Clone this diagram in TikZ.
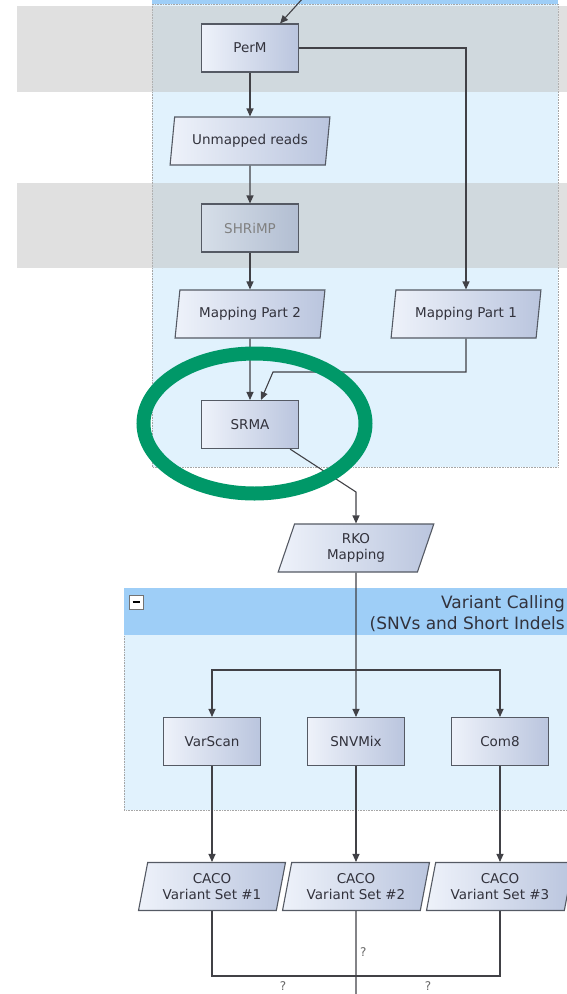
\documentclass[tikz,border=0pt]{standalone}
\usepackage{fontspec}
\setmainfont{DejaVu Sans}
\usetikzlibrary{shapes.geometric,arrows.meta}

\definecolor{panelblue}{RGB}{225,242,253}
\definecolor{headblue}{RGB}{158,206,247}
\definecolor{bandgray}{RGB}{189,189,189}
\definecolor{boxlight}{RGB}{238,242,250}
\definecolor{boxdark}{RGB}{186,197,222}
\definecolor{offlight}{RGB}{214,222,232}
\definecolor{offdark}{RGB}{178,190,210}
\definecolor{boxedge}{RGB}{85,90,100}
\definecolor{wire}{RGB}{65,65,70}
\definecolor{inktext}{RGB}{50,50,60}
\definecolor{ringgreen}{RGB}{0,152,104}

\tikzset{
  stepbox/.style={rectangle, draw=boxedge, line width=1.1pt,
    left color=boxlight, right color=boxdark,
    minimum width=97pt, minimum height=48pt, inner sep=0pt,
    text=inktext, font=\fontsize{13.5}{16}\selectfont, align=center},
  offbox/.style={stepbox, left color=offlight, right color=offdark, text=black!50},
  databox/.style={trapezium, trapezium left angle=75, trapezium right angle=105,
    trapezium stretches=true, draw=boxedge, line width=1.1pt,
    left color=boxlight, right color=boxdark,
    minimum width=#1, minimum height=48pt, inner sep=0pt,
    text=inktext, font=\fontsize{13.5}{16}\selectfont, align=center},
  databox/.default=150pt,
  wireline/.style={draw=wire, line width=1.1pt},
  flow/.style={wireline, -{Triangle[length=8pt,width=7pt]}},
  panel/.style={fill=panelblue, draw=black!35, densely dotted, line width=0.6pt},
  band/.style={fill=bandgray, fill opacity=0.47},
  qmark/.style={text=black!60, font=\fontsize{12}{14}\selectfont, inner sep=0pt}
}

\begin{document}
\begin{tikzpicture}[x=1pt, y=-1pt]
  \useasboundingbox (0,0) rectangle (567,994);
  \clip (0,0) rectangle (567,994);

  % mapping panel and swim lanes
  \draw[panel] (152,4) rectangle (558,467);
  \fill[headblue] (152,-10) rectangle (558,4);
  \fill[band] (17,6) rectangle (567,92);
  \fill[band] (17,183) rectangle (567,268);

  % variant calling panel
  \draw[panel] (124,588) rectangle (600,810);
  \fill[headblue] (124,588) rectangle (600,635);
  \draw[black!55, fill=white, line width=0.6pt] (129,595) rectangle (143,609);
  \draw[black, line width=1.6pt] (132.5,602) -- (139.5,602);
  \node[anchor=base east, text=inktext, font=\fontsize{17}{20}\selectfont, inner sep=0pt] (vctitle) at (565,608) {Variant Calling};
  \node[anchor=base east, text=inktext, font=\fontsize{17}{20}\selectfont, inner sep=0pt] (vcsub) at (565,629) {(SNVs and Short Indels};

  % nodes
  \node[stepbox] (perm) at (250,48) {PerM};
  \node[databox=160pt] (unmapped) at (250,141) {Unmapped reads};
  \node[offbox] (shrimp) at (250,228) {SHRiMP};
  \node[databox=150pt] (mapb) at (250,314) {Mapping Part 2};
  \node[databox=150pt] (mapa) at (466,314) {Mapping Part 1};
  \node[stepbox] (srma) at (250,424.5) {SRMA};
  \node[databox=156pt] (rko) at (356,548) {RKO\\Mapping};

  \node[stepbox] (varscan) at (212,741.5) {VarScan};
  \node[stepbox] (snvmix) at (356,741.5) {SNVMix};
  \node[stepbox] (comb) at (500,741.5) {Com8};

  \node[databox=147pt] (cacoa) at (212,886.5) {CACO\\Variant Set \#1};
  \node[databox=147pt] (cacob) at (356,886.5) {CACO\\Variant Set \#2};
  \node[databox=147pt] (cacoc) at (500,886.5) {CACO\\Variant Set \#3};

  % connectors
  \coordinate (intop) at (304,-3);
  \coordinate (mapjoin) at (273,372);
  \coordinate (srmabend) at (356,492);
  \coordinate (split) at (356,670);
  \coordinate (cacojoin) at (356,976);
  \coordinate (cacoout) at (356,1000);

  \draw[flow] (intop) -- ([xshift=-19pt]perm.north east);
  \draw[flow] (perm) -- (unmapped);
  \draw[flow] (unmapped) -- (shrimp);
  \draw[flow] (shrimp) -- (mapb);
  \draw[flow] (perm.east) -| (mapa.north);
  \draw[flow] (mapb) -- (srma);
  \draw[flow] (mapa.south) |- (mapjoin) -- ([xshift=11pt]srma.north);
  \draw[flow] ([xshift=-9pt]srma.south east) -- (srmabend) -- (rko.north);

  \draw[flow] (rko.south) -- (snvmix.north);
  \draw[flow] (split) -| (varscan.north);
  \draw[flow] (split) -| (comb.north);

  \draw[flow] (varscan) -- (cacoa);
  \draw[flow] (snvmix) -- (cacob);
  \draw[flow] (comb) -- (cacoc);

  \draw[wireline] (cacoa.south) |- (cacojoin) -| (cacoc.south);
  \draw[wireline] (cacob.south) -- (cacoout);
  \node[qmark, anchor=west] (qmid) at (360,952) {?};
  \node[qmark] (qleft) at (283,986) {?};
  \node[qmark] (qright) at (428,986) {?};

  % highlight ring
  \draw[ringgreen, line width=14pt] (254.5,423.5) ellipse [x radius=111, y radius=70];
\end{tikzpicture}
\end{document}
